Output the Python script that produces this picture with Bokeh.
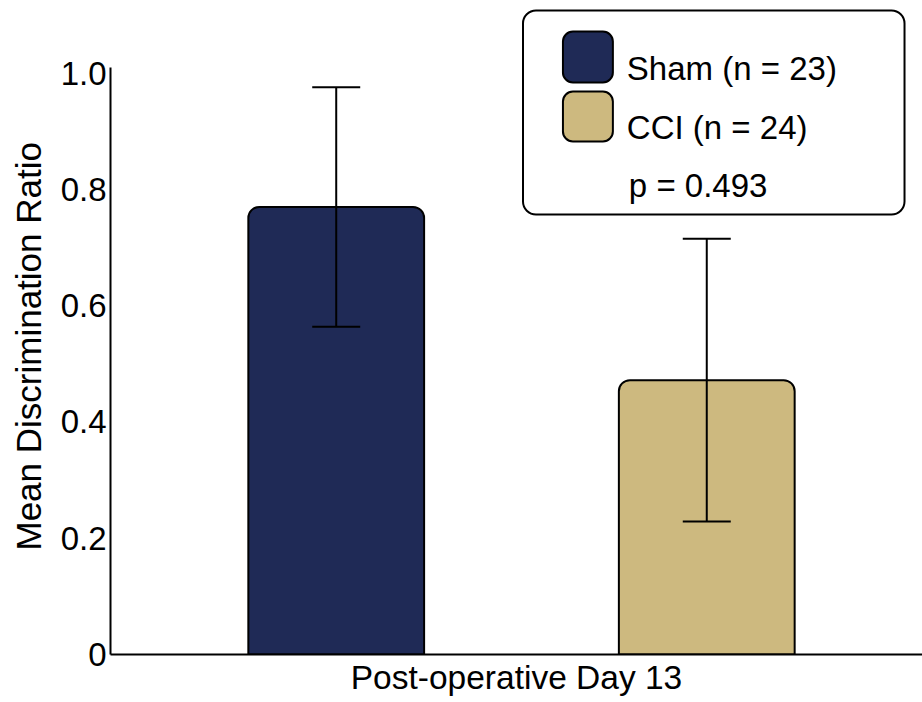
from bokeh.core.properties import value
from bokeh.embed import file_html
from bokeh.models import (ColumnDataSource, FixedTicker, LinearAxis, Range1d, TeeHead,
                          Title, Whisker)
from bokeh.plotting import figure
from bokeh.resources import INLINE

# ---- data -------------------------------------------------------------
groups = ["Sham", "CCI"]
group_n = [23, 24]
mean_ratio = [0.770, 0.472]
sem_ratio = [0.206, 0.243]
bar_colors = ["#1f2a56", "#cdb97f"]
p_value_text = "p = 0.493"
y_ticks = [0, 0.2, 0.4, 0.6, 0.8, 1.0]
y_tick_labels = ["0", "0.2", "0.4", "0.6", "0.8", "1.0"]
x_title = "Post-operative Day 13"
y_title = "Mean Discrimination Ratio"

# ---- layout -----------------------------------------------------------
W, H = 922, 702
LEFT, BOTTOM = 109, 48
FRAME_W, FRAME_H = W - LEFT, H - BOTTOM
PX_PER_GROUP = 371.0   # horizontal distance between bar centres
PX_PER_UNIT = 581.3    # vertical pixels per unit of ratio
FIRST_CENTER_PX = 335.0

x_start = 1 - (FIRST_CENTER_PX - LEFT) / PX_PER_GROUP
x_end = x_start + FRAME_W / PX_PER_GROUP
y_end = FRAME_H / PX_PER_UNIT


def xd(px):
    """canvas x pixel -> data x"""
    return x_start + (px - LEFT) / PX_PER_GROUP


def yd(py):
    """canvas y pixel (from top) -> data y"""
    return (FRAME_H - py) / PX_PER_UNIT


FONT = "Liberation Sans"
FS = "33px"

p = figure(
    width=W, height=H,
    x_range=Range1d(x_start, x_end), y_range=Range1d(0, y_end),
    min_border_left=LEFT, min_border_right=0, min_border_top=0, min_border_bottom=BOTTOM,
    output_backend="svg", toolbar_location=None,
)
p.outline_line_color = None
p.grid.visible = False
p.background_fill_color = "white"
p.border_fill_color = "white"

# ---- bars and error bars ---------------------------------------------
xs = [i + 1 for i in range(len(groups))]
src = ColumnDataSource(dict(
    x=xs, top=mean_ratio, color=bar_colors,
    upper=[m + s for m, s in zip(mean_ratio, sem_ratio)],
    lower=[m - s for m, s in zip(mean_ratio, sem_ratio)],
))
p.vbar(x="x", top="top", bottom=0, width=176 / PX_PER_GROUP, source=src,
       fill_color="color", line_color="black", line_width=2,
       border_radius=(11, 11, 0, 0))
whisk = Whisker(
    source=src, base="x", upper="upper", lower="lower", dimension="height",
    line_color="black", line_width=2, level="overlay",
    upper_head=TeeHead(size=48, line_color="black", line_width=2),
    lower_head=TeeHead(size=48, line_color="black", line_width=2),
)
p.add_layout(whisk)

# ---- axes -------------------------------------------------------------
ax = p.yaxis[0]
ax.ticker = FixedTicker(ticks=y_ticks)
ax.major_label_overrides = {t: lab for t, lab in zip(y_ticks, y_tick_labels)}
ax.major_label_text_font = FONT
ax.major_label_text_font_size = FS
ax.major_label_text_color = "black"
ax.major_label_standoff = 4
ax.major_tick_out = 0
ax.major_tick_in = 0
ax.minor_tick_out = 0
ax.minor_tick_in = 0
ax.axis_line_width = 2
ax.axis_line_color = "black"
ax.bounds = (0, 1.01)

bx = p.xaxis[0]
bx.ticker = FixedTicker(ticks=[])
bx.major_tick_out = 0
bx.minor_tick_out = 0
bx.major_label_standoff = 0
bx.axis_line_width = 2
bx.axis_line_color = "black"

# x title carried by a line-less axis below the main one
xt = LinearAxis(ticker=FixedTicker(ticks=[]), axis_label=x_title)
xt.axis_line_color = None
xt.major_tick_out = 0
xt.minor_tick_out = 0
xt.major_label_standoff = 0
xt.axis_label_standoff = 4
xt.axis_label_text_font = FONT
xt.axis_label_text_font_size = "33.5px"
xt.axis_label_text_font_style = "normal"
xt.axis_label_text_color = "black"
p.add_layout(xt, "below")

# y title as a side title, started from the lower end of the axis
p.add_layout(Title(text=y_title, align="left", offset=104, vertical_align="top",
                   standoff=16, text_font=FONT, text_font_size="35px",
                   text_font_style="normal", text_color="black"), "left")

# ---- legend box -------------------------------------------------------
p.quad(left=xd(522), right=xd(904), top=yd(10), bottom=yd(214),
       fill_color="white", line_color="black", line_width=2, border_radius=13)

sw_top = [31, 91]
sw_bot = [82, 141]
text_base = [68, 127]
p.quad(left=[xd(562)] * 2, right=[xd(612)] * 2,
       top=[yd(v) for v in sw_top], bottom=[yd(v) for v in sw_bot],
       fill_color=bar_colors, line_color="black", line_width=2, border_radius=10)
p.text(x=[xd(626)] * 2, y=[yd(v) for v in text_base],
       text=[f"{g} (n = {n})" for g, n in zip(groups, group_n)],
       text_font=value(FONT), text_font_size=FS, text_color="black",
       text_baseline="alphabetic", text_align="left")
p.text(x=[xd(628)], y=[yd(185)], text=[p_value_text],
       text_font=value(FONT), text_font_size=FS, text_color="black",
       text_baseline="alphabetic", text_align="left")

open("out.html", "w").write(file_html(p, INLINE))
